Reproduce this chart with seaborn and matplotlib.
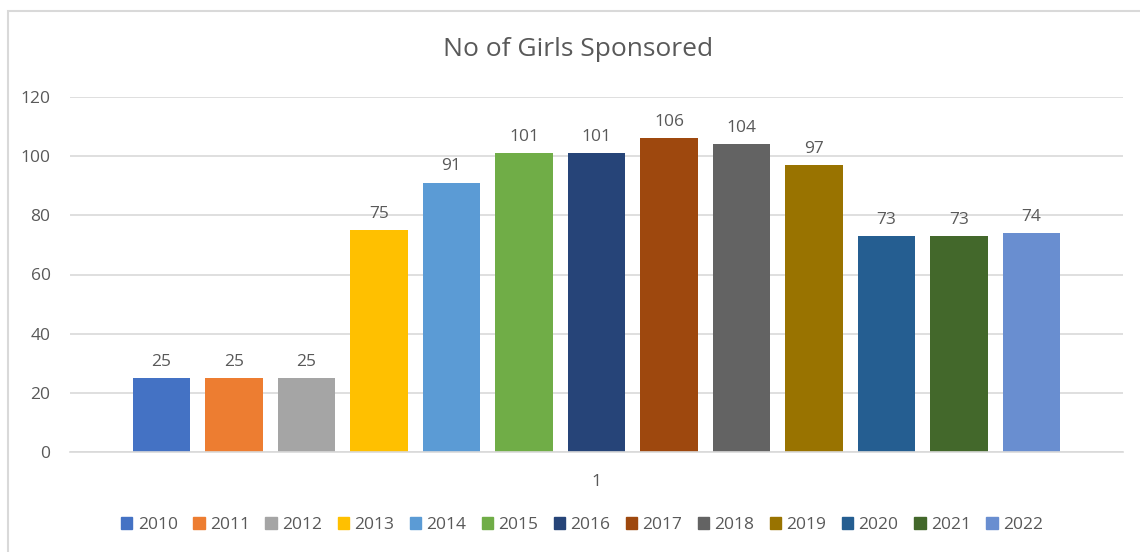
import matplotlib
matplotlib.use("Agg")
import matplotlib.pyplot as plt
import seaborn as sns
import pandas as pd
from matplotlib.patches import Rectangle

years = ["2010", "2011", "2012", "2013", "2014", "2015", "2016",
         "2017", "2018", "2019", "2020", "2021", "2022"]
girls = [25, 25, 25, 75, 91, 101, 101, 106, 104, 97, 73, 73, 74]
category = ["1"] * len(years)
colors = ["#4472C4", "#ED7D31", "#A5A5A5", "#FFC000", "#5B9BD5", "#70AD47",
          "#264478", "#9E480E", "#636363", "#997300", "#255E91", "#43682B",
          "#698ED0"]
title = "No of Girls Sponsored"
yticks = [0, 20, 40, 60, 80, 100, 120]

df = pd.DataFrame({"cat": category, "year": years, "girls": girls})

sns.set_theme(style="white")
plt.rcParams["font.family"] = ["Open Sans", "DejaVu Sans"]
txt = "#595959"

fig = plt.figure(figsize=(11.4, 5.52), dpi=100)
W, H = 1140, 552
ax = fig.add_axes([70 / W, 1 - 452 / H, (1123 - 70) / W, (452 - 97) / H])

sns.barplot(data=df, x="cat", y="girls", hue="year", palette=colors,
            width=0.895, gap=0.21, ax=ax, legend=False, saturation=1,
            linewidth=0, edgecolor="none")

ax.set_xlim(-0.5, 0.5)
ax.set_ylim(0, 120)
ax.set_yticks(yticks)
ax.set_yticklabels([str(t) for t in yticks], fontsize=12.5, color=txt)
ax.set_xticks([0])
ax.set_xticklabels(["1"], fontsize=12.5, color=txt)
ax.tick_params(axis="x", length=0, pad=16)
ax.tick_params(axis="y", length=0, pad=14)
ax.set_xlabel("")
ax.set_ylabel("")
ax.yaxis.grid(True, color="#D9D9D9", linewidth=1.2)
ax.set_axisbelow(True)
for s in ["top", "right", "left"]:
    ax.spines[s].set_visible(False)
ax.spines["bottom"].set_color("#D9D9D9")
ax.spines["bottom"].set_linewidth(1.2)

for cont in ax.containers:
    ax.bar_label(cont, fontsize=12.5, color=txt, padding=6)

fig.text(578 / W, 1 - 49 / H, title, ha="center", va="center",
         fontsize=19, color=txt)

handles = [Rectangle((0, 0), 1, 1, color=c) for c in colors]
fig.legend(handles, years, loc="center", bbox_to_anchor=(582 / W, 1 - 525 / H),
           ncol=len(years), frameon=False, fontsize=12.5, handlelength=0.65,
           handleheight=0.65, handletextpad=0.3, columnspacing=0.9,
           labelcolor=txt)

fig.patches.append(Rectangle((8 / W, -0.1), 1.2, 1 - 11 / H + 0.1,
                             transform=fig.transFigure, fill=False,
                             edgecolor="#D9D9D9", linewidth=1.5))

fig.savefig("out.png", dpi=100)
